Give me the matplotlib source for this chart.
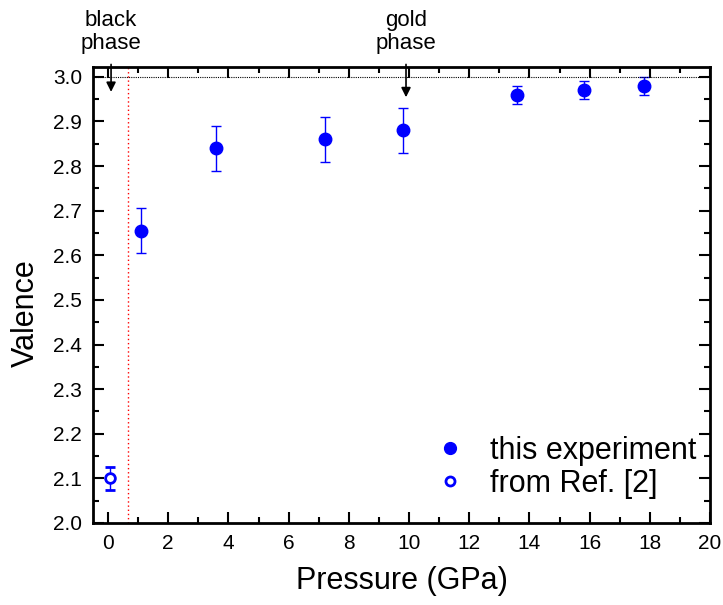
import numpy as np
import matplotlib
matplotlib.use("Agg")
import matplotlib.pyplot as plt
from matplotlib.ticker import MultipleLocator
from matplotlib.lines import Line2D

plt.rcParams['font.family'] = ['Liberation Sans', 'DejaVu Sans']

# data
pressure = [1.1, 3.6, 7.2, 9.8, 13.6, 15.8, 17.8]
valence = [2.655, 2.84, 2.86, 2.88, 2.96, 2.97, 2.98]
valence_err = [0.05, 0.05, 0.05, 0.05, 0.02, 0.02, 0.02]

ref_pressure = [0.05]
ref_valence = [2.10]
ref_err = [0.025]

fig = plt.figure(figsize=(7.23, 6.05), dpi=100)
ax = fig.add_axes([93 / 723, 82 / 605, 617 / 723, 456 / 605])

ax.errorbar(pressure, valence, yerr=valence_err, fmt='o', color='blue',
            ms=9, elinewidth=1, capsize=3.5, capthick=1)
ax.errorbar(ref_pressure, ref_valence, yerr=ref_err, fmt='o', color='blue',
            mfc='white', mec='blue', mew=2, ms=7, elinewidth=1, capsize=3.5,
            capthick=1)

ax.axhline(3.0, color='black', lw=0.8, ls=(0, (1, 1)))
ax.axvline(0.65, color='red', lw=1, ls=(0, (1, 2)))

ax.set_xlim(-0.5, 20)
ax.set_ylim(2.0, 3.022)
ax.xaxis.set_major_locator(MultipleLocator(2))
ax.xaxis.set_minor_locator(MultipleLocator(1))
ax.yaxis.set_major_locator(MultipleLocator(0.1))
ax.yaxis.set_minor_locator(MultipleLocator(0.05))
ax.tick_params(which='both', direction='in', top=True, right=True, width=1.5,
               labelsize=15)
ax.tick_params(which='major', length=8, pad=8)
ax.tick_params(which='minor', length=4)
for s in ax.spines.values():
    s.set_linewidth(2)

ax.set_xlabel('Pressure (GPa)', fontsize=22, labelpad=9)
ax.set_ylabel('Valence', fontsize=22)
ax.yaxis.set_label_coords(-0.085, 0.46)

# phase annotations
ax.annotate('', xy=(0.1, 2.96), xytext=(0.1, 3.034), annotation_clip=False,
            arrowprops=dict(arrowstyle='-|>', color='black', lw=1.2,
                            mutation_scale=14))
ax.text(0.1, 3.051, 'black\nphase', ha='center', va='bottom', fontsize=16,
        linespacing=1.1)
ax.annotate('', xy=(9.9, 2.948), xytext=(9.9, 3.034), annotation_clip=False,
            arrowprops=dict(arrowstyle='-|>', color='black', lw=1.2,
                            mutation_scale=14))
ax.text(9.9, 3.051, 'gold\nphase', ha='center', va='bottom', fontsize=16,
        linespacing=1.1)

handles = [Line2D([], [], marker='o', ls='none', color='blue', ms=8.5),
           Line2D([], [], marker='o', ls='none', color='blue', mfc='white',
                  mew=2, ms=6.5)]
ax.legend(handles, ['this experiment', 'from Ref. [2]'], loc='lower right',
          bbox_to_anchor=(1.012, 0.006), frameon=False, fontsize=22,
          handletextpad=0.7, borderaxespad=0.3, labelspacing=0.1,
          handlelength=1.2)

fig.savefig('out.png', dpi=100)
